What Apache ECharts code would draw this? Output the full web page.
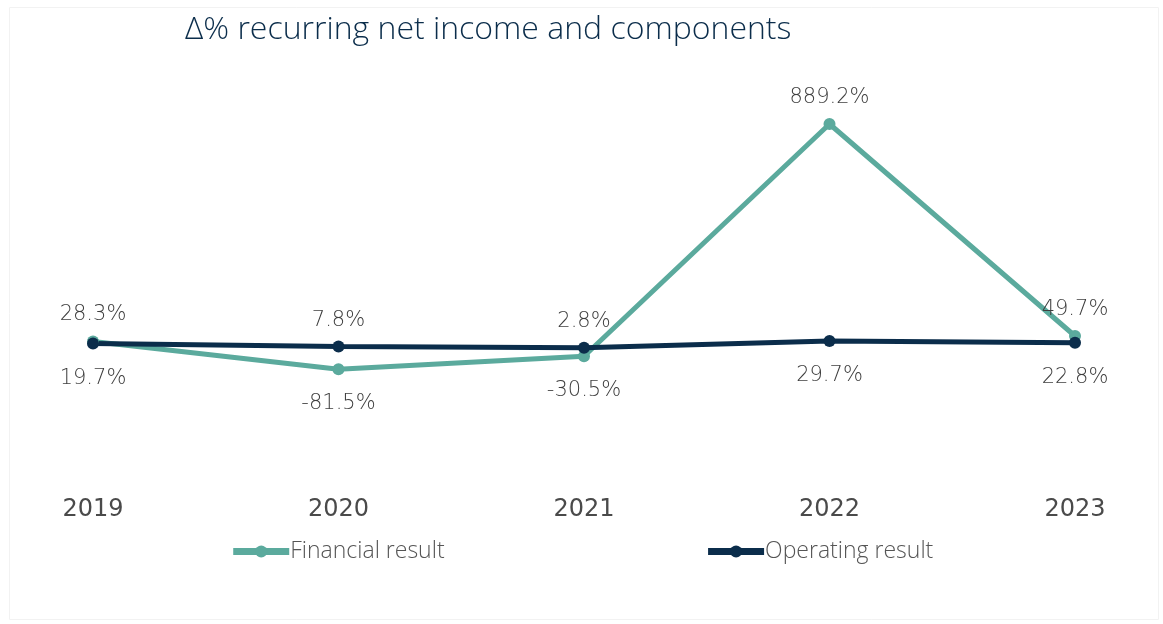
<!DOCTYPE html>
<html><head><meta charset="utf-8">
<script src="https://cdn.jsdelivr.net/npm/echarts@6/dist/echarts.min.js"></script>
<style>html,body{margin:0;padding:0;background:#fff}#c{width:1163px;height:624px}</style>
</head><body><div id="c"></div>
<script>
const years = ['2019','2020','2021','2022','2023'];
const financialResult = [28.3, -81.5, -30.5, 889.2, 49.7];
const operatingResult = [19.7, 7.8, 2.8, 29.7, 22.8];
const seriesNames = ['Financial result', 'Operating result'];
const titleText = 'Δ% recurring net income and components';

const finPos = ['top','bottom','bottom','top','top'];
const opPos = ['bottom','top','top','bottom','bottom'];
function mk(vals, pos){
  return vals.map((v,i)=>({value:v,label:{position:pos[i],distance:pos[i]==='top'?10:18}}));
}
const chart = echarts.init(document.getElementById('c'));
const labelStyle = {show:true, fontFamily:'DejaVu Sans', fontWeight:200, fontSize:21, color:'#3e3e3e', formatter:p=>p.value.toFixed(1)+'%'};
chart.setOption({
  animation:false,
  backgroundColor:'#fff',
  graphic:[{type:'rect',left:7,top:5,shape:{width:1149,height:612},style:{fill:'none',stroke:'#f2f2f2',lineWidth:1}}],
  title:{text:titleText,left:180,top:9,textStyle:{fontFamily:'Open Sans',fontWeight:300,fontSize:32,color:'#0B2D4B'}},
  legend:{bottom:56,left:'center',itemWidth:56,itemHeight:15,itemGap:260,
    lineStyle:{width:7},
    textStyle:{fontFamily:'Open Sans',fontWeight:300,fontSize:23,color:'#555',padding:[0,0,0,-4]},
    data:seriesNames},
  grid:{left:93,right:88,top:96,height:394},
  xAxis:{type:'category',data:years,boundaryGap:false,
    axisLine:{show:false},axisTick:{show:false},splitLine:{show:false},
    axisLabel:{margin:8,fontFamily:'DejaVu Sans',fontSize:24,color:'#4a4a4a'}},
  yAxis:{type:'value',min:-560,max:1000,show:false,splitLine:{show:false}},
  series:[
    {name:seriesNames[0],type:'line',data:mk(financialResult,finPos),color:'#5BAA9D',
      lineStyle:{width:5},symbol:'circle',symbolSize:12,label:labelStyle},
    {name:seriesNames[1],type:'line',data:mk(operatingResult,opPos),color:'#0B2D4B',
      lineStyle:{width:5},symbol:'circle',symbolSize:12,label:labelStyle}
  ]
});
</script></body></html>
